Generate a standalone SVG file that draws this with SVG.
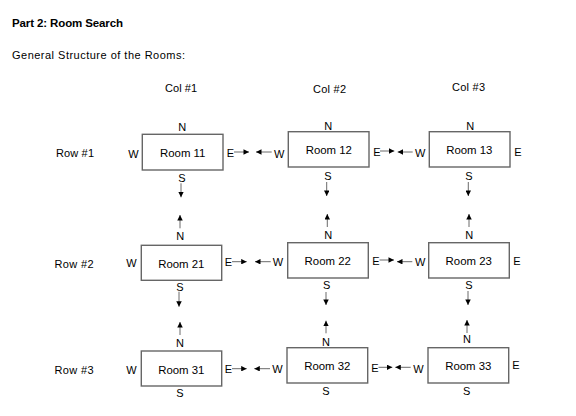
<svg xmlns="http://www.w3.org/2000/svg" width="576" height="416" viewBox="0 0 576 416">
<defs>
<style>
text{font-family:"Liberation Sans",Arial,sans-serif;font-size:11px;fill:#000}
.b{font-weight:bold;font-size:11.5px}
.m{text-anchor:middle}
.r{font-size:11.4px}
.box{fill:#fff;stroke:#666;stroke-width:1.4}
.ln{stroke:#444;stroke-width:0.8;fill:none;marker-end:url(#ah)}
</style>
<marker id="ah" viewBox="0 0 6 6" refX="6" refY="3" markerUnits="userSpaceOnUse" markerWidth="6" markerHeight="5.5" orient="auto">
<path d="M0,0 L6,3 L0,6 z" fill="#000"/>
</marker>
</defs>
<rect width="576" height="416" fill="#fff"/>
<g id="header">
<text x="12" y="27" class="b" textLength="111">Part 2: Room Search</text>
<text x="12" y="59" textLength="173">General Structure of the Rooms:</text>
<text x="165" y="92" textLength="32">Col #1</text>
<text x="313" y="93" textLength="33">Col #2</text>
<text x="452" y="91" textLength="33">Col #3</text>
<text x="56" y="157" textLength="38">Row #1</text>
<text x="54.5" y="268" textLength="39">Row #2</text>
<text x="54.5" y="374" textLength="39">Row #3</text>
</g>
<g id="room11">
<rect class="box" x="142.3" y="134.3" width="80.7" height="35.7"/>
<text x="182.7" y="157" class="m r">Room 11</text>
<text x="182.3" y="131" class="m">N</text>
<text x="182" y="182" class="m">S</text>
<text x="128.3" y="158">W</text>
<text x="226.8" y="157">E</text>
</g>
<g id="room12">
<rect class="box" x="288.3" y="131.7" width="80.7" height="35.3"/>
<text x="328.8" y="154" class="m r">Room 12</text>
<text x="328.3" y="129.5" class="m">N</text>
<text x="328" y="180" class="m">S</text>
<text x="274" y="157.5">W</text>
<text x="373.2" y="156">E</text>
</g>
<g id="room13">
<rect class="box" x="429.3" y="131.7" width="80.7" height="35.3"/>
<text x="469.3" y="154" class="m r">Room 13</text>
<text x="470.3" y="129.5" class="m">N</text>
<text x="469" y="180" class="m">S</text>
<text x="415" y="157">W</text>
<text x="514.3" y="156">E</text>
</g>
<g id="room21">
<rect class="box" x="141.3" y="245.3" width="80.4" height="35"/>
<text x="181.3" y="268.3" class="m r">Room 21</text>
<text x="180.3" y="240" class="m">N</text>
<text x="180" y="290.7" class="m">S</text>
<text x="126.3" y="267.3">W</text>
<text x="224.8" y="266.3">E</text>
</g>
<g id="room22">
<rect class="box" x="287.7" y="242.7" width="80.6" height="35.3"/>
<text x="327.7" y="265.3" class="m r">Room 22</text>
<text x="328.3" y="239" class="m">N</text>
<text x="326.7" y="289.3" class="m">S</text>
<text x="272.7" y="266.3">W</text>
<text x="372.2" y="265.3">E</text>
</g>
<g id="room23">
<rect class="box" x="428.7" y="242.7" width="80.6" height="35.3"/>
<text x="468.7" y="265.3" class="m r">Room 23</text>
<text x="469.3" y="239" class="m">N</text>
<text x="469" y="288.7" class="m">S</text>
<text x="415" y="266.3">W</text>
<text x="513.3" y="265.3">E</text>
</g>
<g id="room31">
<rect class="box" x="141.3" y="351" width="80.4" height="35"/>
<text x="181.3" y="374" class="m r">Room 31</text>
<text x="180" y="346.7" class="m">N</text>
<text x="180" y="397.3" class="m">S</text>
<text x="126.3" y="373.7">W</text>
<text x="224.8" y="372.7">E</text>
</g>
<g id="room32">
<rect class="box" x="287" y="347.7" width="80.7" height="35.3"/>
<text x="327.3" y="370" class="m r">Room 32</text>
<text x="326" y="345.7" class="m">N</text>
<text x="326" y="395.3" class="m">S</text>
<text x="272.3" y="372.7">W</text>
<text x="371.2" y="371.7">E</text>
</g>
<g id="room33">
<rect class="box" x="428" y="347.7" width="80.7" height="35.3"/>
<text x="468.3" y="370" class="m r">Room 33</text>
<text x="467" y="343.3" class="m">N</text>
<text x="466.7" y="395" class="m">S</text>
<text x="413.3" y="372.7">W</text>
<text x="512.3" y="369.3">E</text>
</g>
<g id="connectors">
<line class="ln" x1="234" y1="152" x2="249" y2="152"/>
<line class="ln" x1="271.7" y1="152" x2="256" y2="152"/>
<line class="ln" x1="380" y1="151" x2="394.3" y2="151"/>
<line class="ln" x1="412.7" y1="152" x2="397.7" y2="152"/>
<line class="ln" x1="232" y1="261.7" x2="246.7" y2="261.7"/>
<line class="ln" x1="270.7" y1="261.7" x2="255" y2="261.7"/>
<line class="ln" x1="379.5" y1="260" x2="394" y2="260"/>
<line class="ln" x1="412.3" y1="261.7" x2="397" y2="261.7"/>
<line class="ln" x1="232" y1="368.7" x2="246.7" y2="368.7"/>
<line class="ln" x1="270" y1="368.7" x2="254.3" y2="368.7"/>
<line class="ln" x1="378.5" y1="367.3" x2="392.3" y2="367.3"/>
<line class="ln" x1="410.7" y1="367.3" x2="395.3" y2="367.3"/>
<line class="ln" x1="181" y1="183.3" x2="181" y2="197.3"/>
<line class="ln" x1="180" y1="228.3" x2="180" y2="215"/>
<line class="ln" x1="179" y1="291.7" x2="179" y2="306.7"/>
<line class="ln" x1="180" y1="335" x2="180" y2="322"/>
<line class="ln" x1="326.7" y1="182" x2="326.7" y2="196"/>
<line class="ln" x1="327.3" y1="227" x2="327.3" y2="214"/>
<line class="ln" x1="326" y1="292" x2="326" y2="305"/>
<line class="ln" x1="326" y1="333.3" x2="326" y2="320.7"/>
<line class="ln" x1="468.3" y1="182" x2="468.3" y2="196"/>
<line class="ln" x1="469" y1="227" x2="469" y2="214"/>
<line class="ln" x1="468" y1="291" x2="468" y2="305"/>
<line class="ln" x1="467" y1="333" x2="467" y2="320"/>
</g>
</svg>
